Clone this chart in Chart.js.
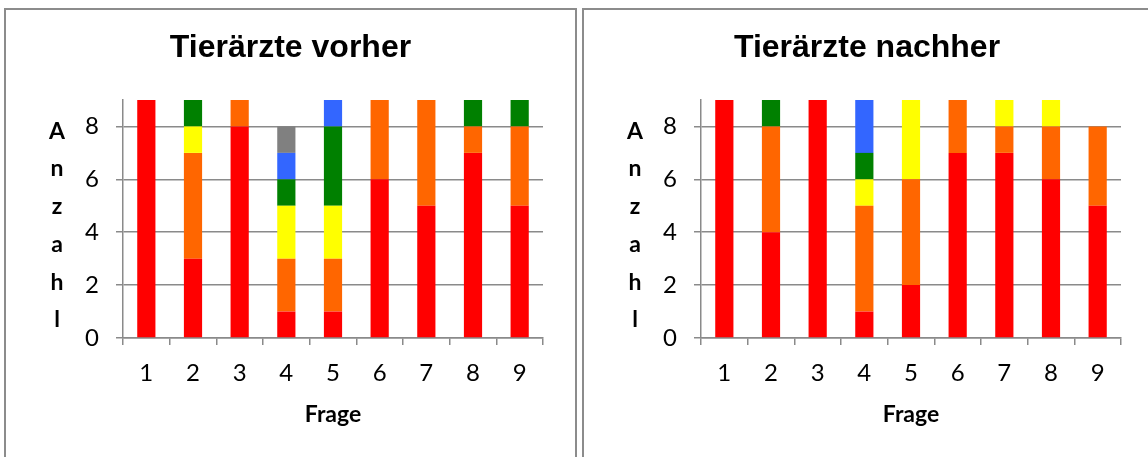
<!DOCTYPE html>
<html lang="de">
<head>
  <meta charset="UTF-8">
  <title>Tierärzte vorher / nachher</title>
  <style>
    body { margin: 0; padding: 0; background: #fff; overflow: hidden; width: 1148px; height: 457px; position: relative; }
    .box { position: absolute; top: 8px; height: 470px; border: 2px solid #8c8c8c; box-sizing: border-box; }
    .chart { position: absolute; top: 0; }
  </style>
  <script src="https://cdn.jsdelivr.net/npm/chart.js"></script>
</head>
<body>
  <div class="box" style="left:4px; width:573px;"></div>
  <div class="box" style="left:582px; width:580px;"></div>
  <canvas id="vorher" class="chart" style="left:5px;" width="571" height="457"></canvas>
  <canvas id="nachher" class="chart" style="left:583px;" width="568" height="457"></canvas>

  <script>
    const fragen = ['1', '2', '3', '4', '5', '6', '7', '8', '9'];
    const yTicks = [0, 2, 4, 6, 8];
    const yMax = 9;
    const yLetters = ['A', 'n', 'z', 'a', 'h', 'l'];

    // Tierärzte vorher (von unten nach oben)
    const vorherRot = [9, 3, 8, 1, 1, 6, 5, 7, 5];
    const vorherOrange = [0, 4, 1, 2, 2, 3, 4, 1, 3];
    const vorherGelb = [0, 1, 0, 2, 2, 0, 0, 0, 0];
    const vorherGruen = [0, 1, 0, 1, 3, 0, 0, 1, 1];
    const vorherBlau = [0, 0, 0, 1, 1, 0, 0, 0, 0];
    const vorherGrau = [0, 0, 0, 1, 0, 0, 0, 0, 0];

    // Tierärzte nachher
    const nachherRot = [9, 4, 9, 1, 2, 7, 7, 6, 5];
    const nachherOrange = [0, 4, 0, 4, 4, 2, 1, 2, 3];
    const nachherGelb = [0, 0, 0, 1, 3, 0, 1, 1, 0];
    const nachherGruen = [0, 1, 0, 1, 0, 0, 0, 0, 0];
    const nachherBlau = [0, 0, 0, 2, 0, 0, 0, 0, 0];
    const nachherGrau = [0, 0, 0, 0, 0, 0, 0, 0, 0];

    const farben = ['#ff0000', '#ff6600', '#ffff00', '#008000', '#3366ff', '#808080'];
    const gridColor = '#8a8a8a';

    // senkrecht gestapelte Buchstaben "Anzahl" links neben der y-Achse
    const stackedYTitle = {
      id: 'stackedYTitle',
      afterDraw(chart) {
        const ctx = chart.ctx;
        const area = chart.chartArea;
        ctx.save();
        ctx.font = 'bold 23px Lato';
        ctx.fillStyle = '#000';
        ctx.textAlign = 'center';
        ctx.textBaseline = 'alphabetic';
        yLetters.forEach((ch, i) => {
          ctx.fillText(ch, area.left - 66, area.top + 38.5 + i * 37.75);
        });
        ctx.restore();
      }
    };

    function makeChart(id, titel, reihen, yWidth, pad) {
      const datasets = reihen.map((werte, i) => ({
        label: 'Antwort ' + (i + 1),
        data: werte,
        backgroundColor: farben[i],
        borderWidth: 0,
        barPercentage: 0.39,
        categoryPercentage: 1
      }));

      return new Chart(document.getElementById(id), {
        type: 'bar',
        data: { labels: fragen, datasets: datasets },
        plugins: [stackedYTitle],
        options: {
          responsive: false,
          animation: false,
          layout: { padding: { left: pad, right: pad, top: 0, bottom: 0 } },
          plugins: {
            legend: { display: false },
            tooltip: { enabled: false },
            title: {
              display: true,
              text: titel,
              color: '#000',
              font: { family: 'Liberation Sans, Arial', size: 32, weight: 'bold', lineHeight: 1.2 },
              padding: { top: 29, bottom: 32.6 }
            }
          },
          scales: {
            x: {
              stacked: true,
              afterFit(scale) { scale.height = 119; },
              grid: { offset: true, drawOnChartArea: false, drawTicks: true, tickLength: 7, color: gridColor, lineWidth: 1.5 },
              border: { display: true, color: gridColor, width: 1.5 },
              ticks: { color: '#000', font: { family: 'Lato', size: 24 }, padding: 14 },
              title: {
                display: true,
                text: 'Frage',
                color: '#000',
                font: { family: 'Lato', size: 23, weight: 'bold', lineHeight: 1.2 },
                padding: { top: 0, bottom: 29 }
              }
            },
            y: {
              stacked: true,
              min: 0,
              max: yMax,
              afterFit(scale) { scale.width = yWidth; },
              afterBuildTicks(scale) { scale.ticks = yTicks.map(v => ({ value: v })); },
              grid: { color: gridColor, lineWidth: 1.5, tickLength: 7 },
              border: { display: true, color: gridColor, width: 1.5 },
              ticks: { color: '#000', font: { family: 'Lato', size: 24 }, padding: 17 }
            }
          }
        }
      });
    }

    makeChart('vorher', 'Tierärzte vorher',
      [vorherRot, vorherOrange, vorherGelb, vorherGruen, vorherBlau, vorherGrau], 85, 33);
    makeChart('nachher', 'Tierärzte nachher',
      [nachherRot, nachherOrange, nachherGelb, nachherGruen, nachherBlau, nachherGrau], 88, 30);
  </script>
</body>
</html>
